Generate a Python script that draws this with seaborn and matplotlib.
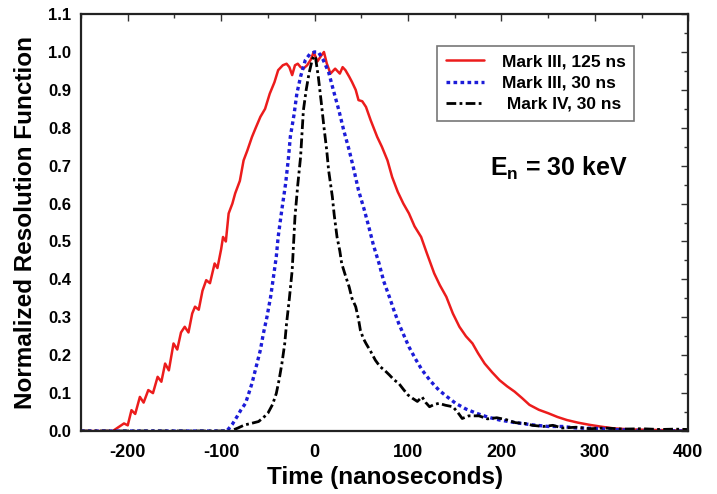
#Resolution functions of the neutron spectrometers at En = 30 keV
#import the necessary libraries
import matplotlib
matplotlib.use("Agg")
import matplotlib.pyplot as plt
from matplotlib.ticker import MultipleLocator
import pandas as pd
import seaborn as sns

#values (time in ns, normalized response)
mk3_125_time = [-250, -216, -210, -204, -200, -196, -192, -187, -183, -178, -173, -168, -164,
                -160, -156, -151, -147, -143, -139, -135, -131, -128, -124, -120, -116, -112,
                -107, -104, -100, -98, -95, -92, -88, -85, -80, -76, -72, -67, -63, -58, -53,
                -48, -43, -39, -34, -30, -27, -24, -21, -18, -15, -12, -8, -4, -1, 3, 7, 10,
                13, 17, 22, 27, 30, 33, 37, 40, 44, 47, 51, 55, 60, 67, 72, 78, 83, 89, 95,
                101, 107, 114, 120, 128, 134, 141, 148, 155, 162, 169, 175, 182, 190, 198,
                206, 214, 222, 230, 240, 250, 260, 270, 282, 295, 308, 320, 340, 360, 380, 400]
mk3_125_value = [0, 0, 0.01, 0.02, 0.015, 0.055, 0.045, 0.09, 0.075, 0.108, 0.10, 0.143, 0.13,
                 0.178, 0.16, 0.231, 0.215, 0.26, 0.275, 0.26, 0.31, 0.328, 0.32, 0.37, 0.398,
                 0.39, 0.442, 0.43, 0.48, 0.512, 0.50, 0.574, 0.60, 0.627, 0.66, 0.714, 0.74,
                 0.776, 0.80, 0.829, 0.85, 0.89, 0.92, 0.952, 0.965, 0.969, 0.96, 0.939, 0.965,
                 0.969, 0.96, 0.956, 0.965, 0.98, 1.0, 0.975, 0.99, 1.0, 0.97, 0.943, 0.956,
                 0.943, 0.96, 0.952, 0.935, 0.921, 0.9, 0.873, 0.87, 0.855, 0.82, 0.776, 0.75,
                 0.714, 0.67, 0.631, 0.60, 0.574, 0.54, 0.512, 0.47, 0.416, 0.385, 0.354, 0.31,
                 0.275, 0.25, 0.231, 0.205, 0.178, 0.155, 0.134, 0.118, 0.104, 0.087, 0.069,
                 0.056, 0.047, 0.037, 0.029, 0.022, 0.016, 0.011, 0.007, 0.004, 0.003, 0.002, 0.001]

mk3_30_time = [-250, -94, -88, -83, -79, -74, -71, -67, -63, -58, -55, -51, -47, -44, -41, -39,
               -35, -31, -28, -26, -22, -19, -15, -10, -5, 0, 4, 9, 15, 20, 26, 31, 37, 42, 47,
               53, 58, 63, 69, 74, 80, 85, 90, 96, 101, 108, 115, 124, 133, 142, 151, 162, 173,
               185, 198, 215, 234, 250, 265, 280, 300, 320, 340, 360, 400]
mk3_30_value = [0, 0, 0.018, 0.038, 0.055, 0.073, 0.095, 0.126, 0.165, 0.214, 0.255, 0.301,
                0.355, 0.407, 0.46, 0.512, 0.585, 0.653, 0.72, 0.776, 0.835, 0.89, 0.935, 0.978,
                0.995, 1.0, 1.0, 0.98, 0.947, 0.9, 0.846, 0.795, 0.741, 0.69, 0.635, 0.585,
                0.539, 0.49, 0.442, 0.395, 0.354, 0.318, 0.284, 0.25, 0.222, 0.19, 0.161, 0.132,
                0.108, 0.09, 0.073, 0.058, 0.047, 0.037, 0.029, 0.022, 0.016, 0.012, 0.012,
                0.008, 0.007, 0.004, 0.002, 0.001, 0]

mk4_30_time = [-250, -90, -82, -75, -68, -60, -55, -50, -45, -41, -38, -35, -32, -30, -27, -24,
               -21, -18, -15, -12, -9, -6, -3, -1, 1, 4, 7, 10, 13, 15, 19, 21, 24, 27, 29, 33,
               37, 40, 44, 47, 49, 52, 55, 60, 65, 70, 75, 80, 85, 90, 95, 100, 105, 110, 115,
               119, 123, 128, 133, 140, 148, 153, 158, 165, 176, 185, 195, 205, 215, 225, 233,
               245, 255, 265, 280, 295, 310, 330, 350, 370, 385, 400]
mk4_30_value = [0, 0, 0.008, 0.016, 0.02, 0.025, 0.035, 0.047, 0.07, 0.099, 0.135, 0.178, 0.23,
                0.284, 0.35, 0.424, 0.565, 0.65, 0.723, 0.846, 0.9, 0.943, 0.975, 0.99, 0.985,
                0.934, 0.87, 0.802, 0.74, 0.688, 0.618, 0.57, 0.512, 0.475, 0.442, 0.41, 0.38,
                0.35, 0.328, 0.295, 0.266, 0.245, 0.231, 0.21, 0.187, 0.17, 0.16, 0.148, 0.135,
                0.126, 0.11, 0.095, 0.086, 0.078, 0.09, 0.075, 0.064, 0.07, 0.073, 0.068, 0.064,
                0.05, 0.033, 0.04, 0.04, 0.032, 0.035, 0.03, 0.022, 0.02, 0.015, 0.012, 0.015,
                0.008, 0.01, 0.006, 0.008, 0.005, 0.006, 0.004, 0.005, 0.004]

series_labels = ["Mark III, 125 ns", "Mark III, 30 ns", " Mark IV, 30 ns"]

#plain white style, then the Arial-like font and black text
sns.set_style("white")
plt.rcParams['font.family'] = ['Liberation Sans', 'DejaVu Sans']
plt.rcParams['mathtext.fontset'] = 'custom'
plt.rcParams['mathtext.bf'] = 'Liberation Sans:bold'
plt.rcParams['mathtext.rm'] = 'Liberation Sans'
plt.rcParams['axes.unicode_minus'] = False
plt.rcParams['text.color'] = 'black'
plt.rcParams['axes.labelcolor'] = 'black'
plt.rcParams['xtick.color'] = 'black'
plt.rcParams['ytick.color'] = 'black'

fig = plt.figure(figsize=(7.17, 4.94), dpi=100)
ax = fig.add_axes([0.113, 0.1275, 0.847, 0.844])

#one table per curve so seaborn can draw it
red = pd.DataFrame({"time": mk3_125_time, "value": mk3_125_value})
blue = pd.DataFrame({"time": mk3_30_time, "value": mk3_30_value})
black = pd.DataFrame({"time": mk4_30_time, "value": mk4_30_value})

sns.lineplot(data=red, x="time", y="value", ax=ax, color="#ec1c1c", linewidth=1.8,
             label=series_labels[0])
sns.lineplot(data=blue, x="time", y="value", ax=ax, color="#1c1cd8", linewidth=2.4,
             linestyle=(0, (1.1, 1.0)), label=series_labels[1])
sns.lineplot(data=black, x="time", y="value", ax=ax, color="black", linewidth=2.0,
             linestyle=(0, (3.5, 1.2, 1.0, 1.2)), label=series_labels[2])

#axes limits and ticks
ax.set_xlim(-250, 400)
ax.set_ylim(0, 1.1)
ax.xaxis.set_major_locator(MultipleLocator(100))
ax.xaxis.set_minor_locator(MultipleLocator(50))
ax.yaxis.set_minor_locator(MultipleLocator(0.05))
ax.set_yticks([i / 10 for i in range(12)])
ax.set_yticklabels([f"{i / 10:.1f}" for i in range(12)])
ax.tick_params(which='both', direction='in', top=True, right=True, color='#333333')
ax.tick_params(which='major', length=5, width=1)
ax.tick_params(which='minor', length=3, width=1)
ax.tick_params(axis='x', which='major', labelsize=13, pad=9)
ax.tick_params(axis='y', which='major', labelsize=12, pad=7)
for lab in ax.get_xticklabels() + ax.get_yticklabels():
    lab.set_fontweight('bold')
for side in ax.spines.values():
    side.set_linewidth(1.6)
    side.set_color('#222222')

ax.set_xlabel("Time (nanoseconds)", fontsize=17.5, fontweight='bold', labelpad=4)
ax.set_ylabel("Normalized Resolution Function", fontsize=17.5, fontweight='bold', labelpad=8)

#legend box in the upper right
leg = ax.legend(loc='upper right', bbox_to_anchor=(0.925, 0.945), fancybox=False,
                framealpha=1, edgecolor='#777777', handlelength=2.2, handletextpad=1.0,
                labelspacing=0.35, borderpad=0.5, prop={'weight': 'bold', 'size': 12.5})
leg.get_frame().set_linewidth(1.2)

ax.text(0.787, 0.63, r"E$_\mathbf{n}$ = 30 keV", transform=ax.transAxes, ha='center',
        va='center', fontsize=18, fontweight='bold')

plt.savefig("out.png", dpi=100)
plt.close()
